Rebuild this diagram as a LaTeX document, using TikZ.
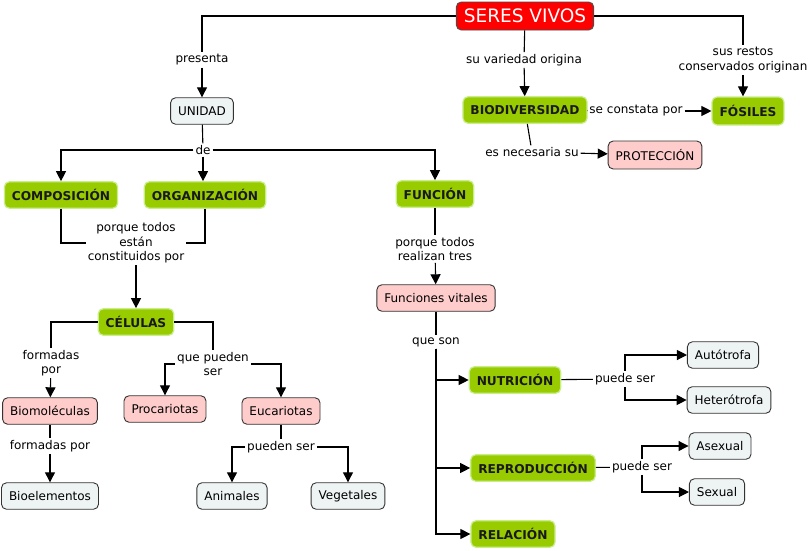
\documentclass[tikz,border=0pt]{standalone}
\usepackage{fontspec}
\setmainfont{DejaVu Sans}
\usepackage{xcolor}
\usetikzlibrary{arrows.meta}

\definecolor{seresred}{HTML}{FF0000}
\definecolor{conceptgreen}{HTML}{99CC00}
\definecolor{greenrim}{HTML}{C8EE8A}
\definecolor{conceptpink}{HTML}{FFCCCC}
\definecolor{conceptpale}{HTML}{EEF3F4}

\tikzset{
  concept/.style={rounded corners=5pt, line width=0.9pt, inner xsep=7.5pt,
    inner ysep=2pt, minimum height=26.5pt, font=\fontsize{12}{13}\selectfont},
  green/.style={concept, fill=conceptgreen, draw=greenrim, line width=1.2pt,
    font=\fontsize{12.2}{13}\selectfont\bfseries, text=black!90},
  pink/.style={concept, fill=conceptpink, draw=black!80},
  pale/.style={concept, fill=conceptpale, draw=black!80},
  lbl/.style={fill=white, inner sep=1.5pt, align=center,
    font=\fontsize{12}{14.5}\selectfont},
  arr/.style={-{Triangle[length=10pt,width=10pt]}},
}

\begin{document}
\begin{tikzpicture}[x=1pt,y=-1pt,line width=1.1pt]
		\useasboundingbox (0,0) rectangle (810,550);

		% concepts
		\node[concept, fill=seresred, draw=black!70, text=white,
		  font=\fontsize{18.5}{20}\selectfont, minimum height=28pt] (seres) at (525,16) {SERES VIVOS};
		\node[pale] (unidad) at (202,111) {UNIDAD};
		\node[green] (compos) at (61,195) {COMPOSICIÓN};
		\node[green] (organiz) at (205,195) {ORGANIZACIÓN};
		\node[green] (funcion) at (435,194) {FUNCIÓN};
		\node[green] (celulas) at (136,322) {CÉLULAS};
		\node[pink] (biomol) at (50,411) {Biomoléculas};
		\node[pale] (bioelem) at (50,496) {Bioelementos};
		\node[pink] (procar) at (165,409) {Procariotas};
		\node[pink] (eucar) at (281,411) {Eucariotas};
		\node[pale] (animales) at (232,496) {Animales};
		\node[pale] (vegetales) at (348,496) {Vegetales};
		\node[green] (biodiv) at (525,110) {BIODIVERSIDAD};
		\node[green, minimum height=28pt] (fosiles) at (748,111) {FÓSILES};
		\node[pink, minimum height=28pt] (proteccion) at (655,155) {PROTECCIÓN};
		\node[pink] (vitales) at (436,298) {Funciones vitales};
		\node[green] (nutricion) at (515,380) {NUTRICIÓN};
		\node[green] (reproduc) at (533,468) {REPRODUCCIÓN};
		\node[green] (relacion) at (513,534) {RELACIÓN};
		\node[pale] (autotrofa) at (723,355) {Autótrofa};
		\node[pale] (heterotrofa) at (729,400) {Heterótrofa};
		\node[pale] (asexual) at (720,446) {Asexual};
		\node[pale] (sexual) at (717,492) {Sexual};

		% linking phrases
		\node[lbl] (presenta) at (202,60) {presenta};
		\node[lbl] (de) at (203,150) {de};
		\node[lbl] (porque) at (136,243) {porque todos\\están\\constituidos por};
		\node[lbl] (formadas) at (51,363) {formadas\\por};
		\node[lbl] (formadaspor) at (50,446) {formadas por};
		\node[lbl] (quepueden) at (213,364) {que pueden\\ser};
		\node[lbl] (puedenser) at (281,447) {pueden ser};
		\node[lbl] (variedad) at (524,60) {su variedad origina};
		\node[lbl] (restos) at (743,60) {sus restos\\conservados originan};
		\node[lbl] (constata) at (636,111) {se constata por};
		\node[lbl] (necesaria) at (532,152) {es necesaria su};
		\node[lbl] (realizan) at (435,249) {porque todos\\realizan tres};
		\node[lbl] (queson) at (436,342) {que son};
		\node[lbl] (puede1) at (625,379) {puede ser};
		\node[lbl] (puede2) at (642,467) {puede ser};

		% left branch
		\draw (seres) -| (presenta);
		\draw[arr] (presenta) -- (unidad);
		\draw (unidad) -- (de);
		\draw[arr] (de) -| (compos);
		\draw[arr] (de) -- (de |- organiz.north);
		\draw[arr] (de) -| (funcion);
		\draw (compos) |- (porque);
		\draw (organiz) |- (porque);
		\draw[arr] (porque) -- (celulas);
		\draw (celulas) -| (formadas);
		\draw[arr] (formadas) -- (biomol);
		\draw (biomol) -- (formadaspor);
		\draw[arr] (formadaspor) -- (bioelem);
		\draw (celulas) -| (quepueden);
		\draw[arr] (quepueden) -| (procar);
		\draw[arr] (quepueden) -| (eucar);
		\draw (eucar) -- (puedenser);
		\draw[arr] (puedenser) -| (animales);
		\draw[arr] (puedenser) -| (vegetales);

		% right branch
		\draw (seres) -- (variedad);
		\draw[arr] (variedad) -- (biodiv);
		\draw (biodiv) -- (constata);
		\draw[arr] (constata) -- (fosiles);
		\draw (seres) -| (restos);
		\draw[arr] (restos) -- (restos |- fosiles.north);
		\draw (biodiv) -- (necesaria);
		\draw[arr] (necesaria) -- (proteccion);

		% functions
		\draw (funcion) -- (realizan);
		\draw[arr] (realizan) -- (vitales);
		\draw (vitales) -- (queson);
		\draw[arr] (queson.south) |- (nutricion);
		\draw[arr] (queson.south) |- (reproduc);
		\draw[arr] (queson.south) |- (relacion);
		\draw (nutricion) -- (puede1);
		\draw[arr] (puede1) |- (autotrofa);
		\draw[arr] (puede1) |- (heterotrofa);
		\draw (reproduc) -- (puede2);
		\draw[arr] (puede2) |- (asexual);
		\draw[arr] (puede2) |- (sexual);
	\end{tikzpicture}
\end{document}
